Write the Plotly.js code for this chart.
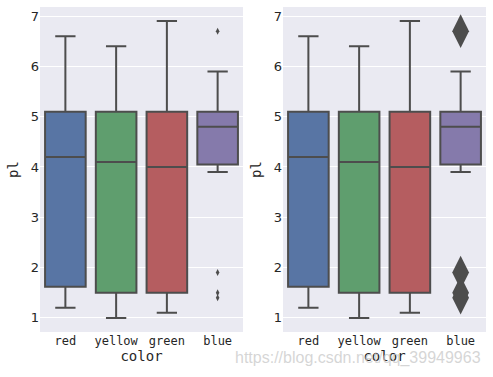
<!DOCTYPE html>
<html>
<head>
<meta charset="utf-8">
<script src="https://cdn.plot.ly/plotly-3.0.1.min.js"></script>
<style>html,body{margin:0;padding:0;background:#fff;}#chart{width:493px;height:377px;}</style>
</head>
<body>
<div id="chart"></div>
<script>
// Data
const categories = ['red', 'yellow', 'green', 'blue'];
const lowerWhisker = [1.2, 1.0, 1.1, 3.9];
const q1Values = [1.62, 1.5, 1.5, 4.05];
const medianValues = [4.2, 4.1, 4.0, 4.8];
const q3Values = [5.1, 5.1, 5.1, 5.1];
const upperWhisker = [6.6, 6.4, 6.9, 5.9];
const outlierCategory = ['blue', 'blue', 'blue', 'blue'];
const outlierValues = [6.7, 1.9, 1.5, 1.4];
const yTicks = [1, 2, 3, 4, 5, 6, 7];

const boxColors = ['#5875a4', '#5f9e6e', '#b55d60', '#857aab'];
const edge = '#4d4d4d';
const traces = [];
const panels = [{x: 'x', y: 'y', flier: {symbol: 'diamond-tall', size: 5}},
                {x: 'x2', y: 'y2', flier: {symbol: 'diamond-tall', size: 24}}];
panels.forEach(p => {
  categories.forEach((c, i) => {
    traces.push({
      type: 'box', xaxis: p.x, yaxis: p.y,
      x: [c], q1: [q1Values[i]], median: [medianValues[i]], q3: [q3Values[i]],
      lowerfence: [lowerWhisker[i]], upperfence: [upperWhisker[i]],
      width: 0.8, whiskerwidth: 0.5,
      fillcolor: boxColors[i], line: {color: edge, width: 2},
      showlegend: false, hoverinfo: 'skip'
    });
  });
  traces.push({
    type: 'scatter', mode: 'markers', xaxis: p.x, yaxis: p.y,
    x: outlierCategory, y: outlierValues,
    marker: {symbol: p.flier.symbol, size: p.flier.size, color: edge, line: {width: 0}},
    showlegend: false, hoverinfo: 'skip'
  });
});

const tickFont = {family: 'DejaVu Sans Mono, monospace', size: 12, color: '#262626'};
const yTickFont = {family: 'DejaVu Sans, sans-serif', size: 13, color: '#262626'};
const titleFont = {family: 'DejaVu Sans Mono, monospace', size: 14, color: '#262626'};
function xAx(dom, anchor) {
  return {domain: dom, anchor: anchor, type: 'category', categoryorder: 'array', categoryarray: categories,
    range: [-0.5, 3.5], showgrid: false, zeroline: false, showline: false, ticks: '',
    tickfont: tickFont, title: {text: 'color', font: titleFont, standoff: 2}, fixedrange: true};
}
function yAx(anchor) {
  return {domain: [0.1194, 0.9814], anchor: anchor, range: [0.72, 7.18], tickvals: yTicks,
    showgrid: true, gridcolor: '#ffffff', gridwidth: 1, zeroline: false, showline: false, ticks: '',
    tickfont: yTickFont, title: {text: 'pl', font: titleFont, standoff: 8}, fixedrange: true};
}
const layout = {
  width: 493, height: 377,
  margin: {l: 0, r: 0, t: 0, b: 0},
  paper_bgcolor: '#ffffff', plot_bgcolor: '#eaeaf2',
  boxmode: 'overlay',
  xaxis: xAx([40/493, 243/493], 'y'),
  yaxis: yAx('x'),
  xaxis2: xAx([283/493, 486/493], 'y2'),
  yaxis2: yAx('x2'),
  annotations: [{
    xref: 'paper', yref: 'paper', x: 483/493, y: 1 - 358/377, xanchor: 'right', yanchor: 'middle',
    text: 'https://blog.csdn.net/qq_39949963', showarrow: false,
    font: {family: 'Liberation Sans, Arial, sans-serif', size: 16, color: 'rgba(200,200,200,0.75)'}
  }]
};
Plotly.newPlot('chart', traces, layout, {displayModeBar: false, staticPlot: true});
</script>
</body>
</html>
